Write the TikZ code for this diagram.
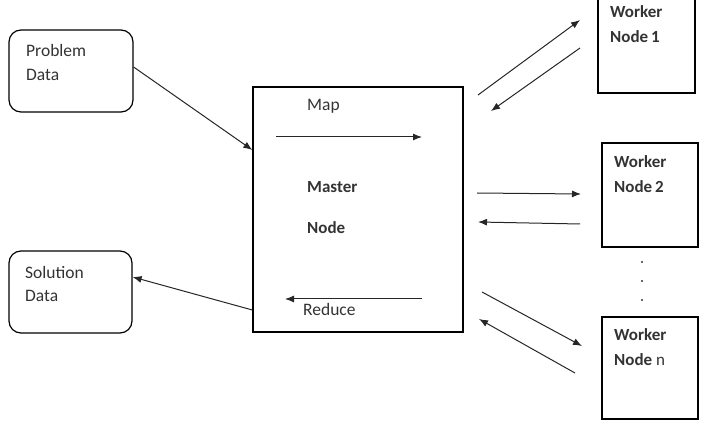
\documentclass[tikz,border=0pt]{standalone}
\usepackage{fontspec}
\setmainfont{Carlito}
\usepackage{tikz}
\usetikzlibrary{arrows.meta,positioning,calc}

\begin{document}
\begin{tikzpicture}[x=1pt, y=-1pt,
    databox/.style={draw, line width=1.2pt, rounded corners=12pt, inner sep=0pt},
    nodebox/.style={draw, line width=1.3pt, inner sep=0pt},
    lbl/.style={anchor=base west, inner sep=0pt, align=left, text=black!80,
        font=\fontsize{17.5}{24}\selectfont},
    blbl/.style={lbl, font=\fontsize{17}{25}\selectfont\bfseries},
    arr/.style={-{Latex[length=9pt,width=7pt]}, line width=1pt, black!85}]
    \useasboundingbox (0,0) rectangle (707,430);
    \clip (0,0) rectangle (707,430);

    % Left: input and output data
    \node[databox, minimum width=124pt, minimum height=82pt] (prob) at (71,71) {};
    \node[lbl] (probtxt) at (26,81) {Problem\\Data};
    \node[databox, minimum width=123pt, minimum height=82pt] (sol) at (70.5,292) {};
    \node[lbl] (soltxt) at (25,302) {Solution\\Data};

    % Middle: master node
    \node[nodebox, minimum width=210pt, minimum height=245pt] (master) at (358,209.5) {};
    \node[lbl] (maptxt) at (307,111) {Map};
    \node[blbl] (mastertxt) at (307,193) {Master};
    \node[blbl] (nodetxt) at (307,234) {Node};
    \node[lbl] (redtxt) at (303,316) {Reduce};

    % Right: worker nodes
    \node[nodebox, minimum width=97pt, minimum height=100pt] (w1) at (646.5,43) {};
    \node[blbl] (w1txt) at (610,43) {Worker\\Node\,1};
    \node[nodebox, minimum width=96pt, minimum height=104pt] (w2) at (650,195) {};
    \node[blbl] (w2txt) at (614,193) {Worker\\Node\,2};
    \node[nodebox, minimum width=96pt, minimum height=102pt] (wn) at (650,368) {};
    \node[blbl] (wntxt) at (614,366) {Worker\\Node {\mdseries n}};
    \foreach \y in {262,281,300}
        \fill[black!80] (642,\y) circle (1.2pt);

    % Arrow end points
    \coordinate (mapa) at (276,137);
    \coordinate (mapb) at (422,137);
    \coordinate (reda) at (422,299);
    \coordinate (redb) at (285,299);
    \coordinate (m1a) at (478,95);
    \coordinate (w1a) at (580,20);
    \coordinate (w1b) at (580,48);
    \coordinate (m1b) at (491,111);
    \coordinate (m2a) at (477,193);
    \coordinate (w2a) at (581,194);
    \coordinate (w2b) at (580,224);
    \coordinate (m2b) at (478,222);
    \coordinate (mna) at (482,292);
    \coordinate (wna) at (582,346);
    \coordinate (wnb) at (575,373);
    \coordinate (mnb) at (479,319);

    % Arrows
    \draw[arr] (prob.east |- 0,67) -- (master.west |- 0,150);
    \draw[arr] (master.west |- 0,310) -- (sol.east |- 0,277);
    \draw[arr] (mapa) -- (mapb);
    \draw[arr] (reda) -- (redb);
    \draw[arr] (m1a) -- (w1a);
    \draw[arr] (w1b) -- (m1b);
    \draw[arr] (m2a) -- (w2a);
    \draw[arr] (w2b) -- (m2b);
    \draw[arr] (mna) -- (wna);
    \draw[arr] (wnb) -- (mnb);
\end{tikzpicture}
\end{document}
